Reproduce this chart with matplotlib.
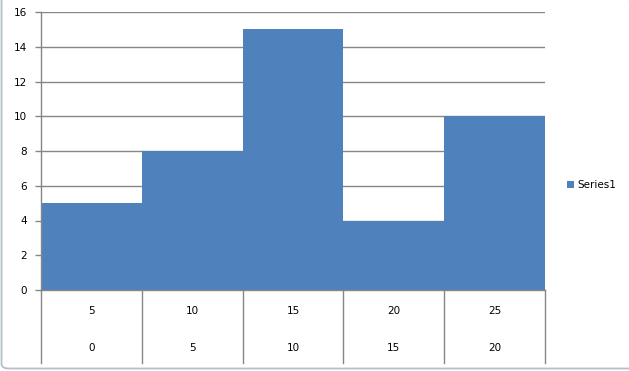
import matplotlib
matplotlib.use("Agg")
import matplotlib.pyplot as plt
from matplotlib.patches import FancyBboxPatch

upper_labels = ["5", "10", "15", "20", "25"]
lower_labels = ["0", "5", "10", "15", "20"]
values = [5, 8, 15, 4, 10]
series_name = "Series1"
yticks = [0, 2, 4, 6, 8, 10, 12, 14, 16]

bar_color = "#4F81BD"
grid_color = "#868686"
font = "DejaVu Sans"
fs = 7.5

fig = plt.figure(figsize=(6.29, 3.71), dpi=100)
fig.patch.set_facecolor("white")

# outer rounded border (only left and bottom edges fall inside the image)
border = FancyBboxPatch((1.5/629, 2.5/371), 1.006, 1.05,
                        boxstyle="round,pad=0,rounding_size=0.012",
                        transform=fig.transFigure, facecolor="none",
                        edgecolor="#B4C0C8", linewidth=1.3, zorder=-1)
fig.patches.append(border)

ax = fig.add_axes([41/629, 1-290/371, (545-41)/629, (290-12)/371])
ax.set_facecolor("none")
x = list(range(len(values)))
ax.bar(x, values, width=1.0, align="center", color=bar_color, zorder=2, label=series_name)
ax.set_xlim(-0.5, len(values)-0.5)
ax.set_ylim(0, 16)
ax.set_yticks(yticks)
ax.set_yticklabels([str(t) for t in yticks], fontsize=fs, family=font)
ax.yaxis.grid(True, color=grid_color, linewidth=1.0, zorder=0)
ax.set_axisbelow(True)
ax.tick_params(axis="y", length=4, width=1, color=grid_color, pad=6)
ax.set_xticks([])
for s in ["top", "right"]:
    ax.spines[s].set_visible(False)
ax.spines["left"].set_color(grid_color)
ax.spines["bottom"].set_color(grid_color)
ax.spines["left"].set_linewidth(1.0)
ax.spines["bottom"].set_linewidth(1.0)

# category label table below the axis
trans = ax.get_xaxis_transform()
depth = (363-290) / (290-12)
for i in range(len(values)+1):
    ax.plot([i-0.5, i-0.5], [0, -depth], transform=trans, color=grid_color,
            linewidth=1.0, clip_on=False, zorder=3)
r1 = -(311-290) / (290-12)
r2 = -(348-290) / (290-12)
for i, (u, l) in enumerate(zip(upper_labels, lower_labels)):
    ax.text(i, r1, u, transform=trans, ha="center", va="center", fontsize=fs, family=font)
    ax.text(i, r2, l, transform=trans, ha="center", va="center", fontsize=fs, family=font)

# legend
fig.patches.append(plt.Rectangle((567/629, 1-188/371), 7/629, 7/371,
                                 transform=fig.transFigure, facecolor=bar_color,
                                 edgecolor="none"))
fig.text(577/629, 1-184.5/371, series_name, fontsize=fs, family=font,
         ha="left", va="center")

fig.savefig("out.png", dpi=100)
